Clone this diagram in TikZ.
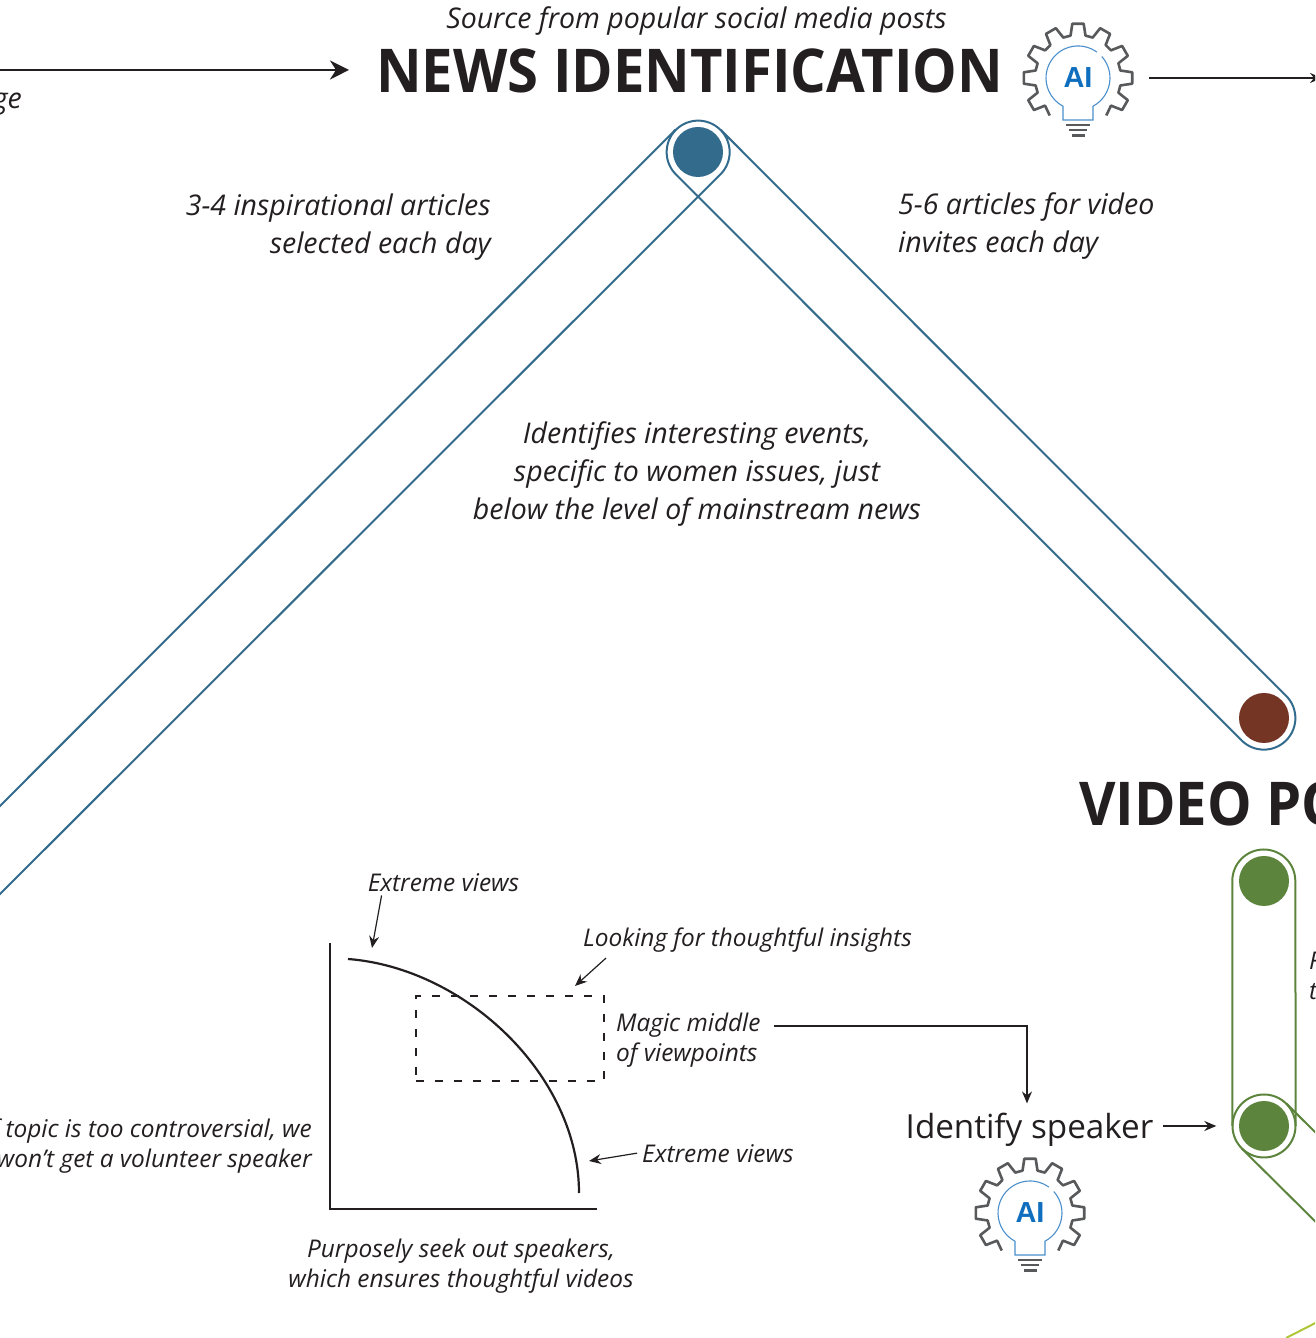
\documentclass[tikz,border=0pt]{standalone}
\usepackage{fontspec}
\setmainfont{Open Sans}
\newfontfamily\headfont{Open Sans}[FakeStretch=0.93]
\newfontfamily\aifont{Liberation Sans}
\usetikzlibrary{arrows.meta}
\usetikzlibrary{positioning}
\definecolor{ink}{HTML}{231F20}
\definecolor{newsblue}{HTML}{336B8C}
\definecolor{docbrown}{HTML}{753525}
\definecolor{videogreen}{HTML}{5C843C}
\definecolor{limeline}{HTML}{AFC63A}
\definecolor{gearblue}{HTML}{0F6EBD}
\definecolor{bulbblue}{HTML}{4A8FCB}
\definecolor{geargray}{HTML}{58595B}
\tikzset{
  lbl/.style={text=ink, inner sep=0pt, font=\fontsize{28.5}{38}\selectfont\itshape},
  sublbl/.style={text=ink, inner sep=0pt, font=\fontsize{24.4}{30}\selectfont\itshape},
  heading/.style={text=ink, inner sep=0pt, font=\headfont\fontsize{60.4}{62}\selectfont\bfseries},
  dot/.style={circle, inner sep=0pt, minimum size=50pt},
  ring/.style={circle, inner sep=0pt, minimum size=63pt},
  capsule/.style={line width=2pt},
  arrow/.style={-{Stealth[length=12pt,width=10pt,inset=4pt]}, ink, line width=1.2pt},
  bigarrow/.style={-{Stealth[length=19pt,width=19pt,inset=6pt]}, ink, line width=2.2pt},
  pics/aibulb/.style={code={
    \draw[geargray, line width=2.6pt, line join=round]
      (-53:47) \foreach \t in {-30,0,...,210} {
        -- ({\t-10}:43) -- ({\t-6}:54.5) -- ({\t+6}:54.5) -- ({\t+10}:43)
      } -- (233:47);
    \draw[bulbblue, line width=1.1pt]
      (54:32) arc[start angle=54, end angle=242, radius=32]
      -- (-15,-42) -- (15,-42) -- (15,-28.2)
      arc[start angle=-62, end angle=42, radius=32];
    \fill[geargray] (-12,-48.4) rectangle (12,-45.6);
    \fill[geargray] (-9,-53.4) rectangle (9,-50.6);
    \fill[geargray] (-6.5,-59.2) rectangle (6.5,-56.2);
    \node[text=gearblue, inner sep=0pt, font=\aifont\fontsize{29}{29}\selectfont\bfseries] (-ai) at (0,0) {AI};
  }}
}
\begin{document}
\begin{tikzpicture}[x=1pt,y=1pt]
\useasboundingbox (0,0) rectangle (1315,1338);
\clip (0,0) rectangle (1315,1338);
% titles
\node[lbl, anchor=base] (source) at (696.5,1309) {Source from popular social media posts};
\node[heading, anchor=base west] (newstitle) at (376,1245) {NEWS IDENTIFICATION};
\node[heading, anchor=base west] (videotitle) at (1079,512) {VIDEO PO};
\node[lbl, anchor=base east] (age) at (22,1229) {ge};
\coordinate (incoming) at (-20,1268);
\coordinate (outgoing) at (1322,1260);
\pic (newsgear) at (1078,1260) {aibulb};
\coordinate (newsout) at (1149,1260);
\coordinate (newsin) at (349,1268);
\draw[bigarrow] (incoming) -- (newsin);
\draw[arrow, line width=1.8pt] (newsout) -- (outgoing);
% capsules
\node[dot, fill=newsblue] (newsdot) at (698,1186) {};
\node[ring] (newsring) at (698,1186) {};
\node[dot, fill=docbrown] (docdot) at (1264,620) {};
\node[ring] (docring) at (1264,620) {};
\coordinate (leftup) at (-40,492);
\coordinate (leftlow) at (-40,404);
\draw[newsblue, capsule] (leftlow) -- (newsring.-45)
  arc[start angle=-45, end angle=225, radius=31.5] -- (docring.225)
  arc[start angle=225, end angle=405, radius=31.5] -- (newsring.45);
\draw[newsblue, capsule] (leftup) -- (newsring.135);
\node[lbl, align=right, anchor=east] (inspire) at (491,1111) {3-4 inspirational articles\\selected each day};
\node[lbl, align=left, anchor=west] (invites) at (898,1111.5) {5-6 articles for video\\invites each day};
\node[lbl, align=center] (identifies) at (697,864) {Identifies interesting events,\\specific to women issues, just\\below the level of mainstream news};
% green capsule
\node[dot, fill=videogreen] (topdot) at (1264,457) {};
\node[ring] (topring) at (1264,457) {};
\node[dot, fill=videogreen] (speakdot) at (1264,212) {};
\node[ring] (speakring) at (1264,212) {};
\draw[videogreen, capsule] (speakring.180) -- (topring.180)
  arc[start angle=180, end angle=0, radius=31.5] -- (speakring.0);
\draw[videogreen, capsule] (speakring) circle[radius=31.5];
\coordinate (greenup) at (1335,186);
\coordinate (greenlow) at (1335,97);
\draw[videogreen, capsule] (speakring.45) -- (greenup);
\draw[videogreen, capsule] (speakring.225) -- (greenlow);
\coordinate (limeleft) at (1286,0);
\coordinate (limeright) at (1335,25);
\draw[limeline, capsule] (limeleft) -- (limeright);
\node[sublbl, anchor=base west, align=left] (cutoff) at (1309,338) {F\\t};
% chart
\coordinate (axistop) at (330,395);
\coordinate (axisorigin) at (330,129);
\coordinate (axisright) at (597,129);
\draw[ink, line width=2.4pt] (axistop) -- (axisorigin) -- (axisright);
\draw[ink, line width=2.2pt] (348,379) .. controls (465,370) and (579,263) .. (579,145);
\node[draw=ink, line width=1.1pt, dash pattern=on 8pt off 11pt, minimum width=188pt, minimum height=85pt, inner sep=0pt] (magicbox) at (510,299.5) {};
\node[sublbl, anchor=base] (extremetop) at (443.5,446) {Extreme views};
\node[sublbl, anchor=base west] (looking) at (583,391) {Looking for thoughtful insights};
\node[sublbl, align=left, anchor=west] (magic) at (616,297.5) {Magic middle\\of viewpoints};
\node[sublbl, anchor=base west] (extremeright) at (642,175) {Extreme views};
\node[sublbl, align=right, anchor=east] (controversial) at (312,192) {f topic is too controversial, we\\won’t get a volunteer speaker};
\node[sublbl, align=center] (purposely) at (461,71.5) {Purposely seek out speakers,\\which ensures thoughtful videos};
\coordinate (toptip) at (372,390);
\coordinate (boxtip) at (575,352);
\coordinate (righttip) at (589,177);
\draw[arrow] (extremetop.south west) ++(14,-3) -- (toptip);
\draw[arrow] (looking.south west) ++(23,-5) -- (boxtip);
\draw[arrow] (extremeright.west) ++(-5,1) -- (righttip);
% speaker
\node[text=ink, inner sep=0pt, font=\fontsize{33.2}{34}\selectfont, anchor=base] (speaker) at (1029.5,199) {Identify speaker};
\pic (speakergear) at (1030,125) {aibulb};
\coordinate (magicout) at (774,312);
\draw[arrow] (magicout) -| ([xshift=-2.5pt,yshift=10pt]speaker.north);
\draw[arrow, line width=1.8pt] ([xshift=10pt]speaker.east |- speakring.west) -- ([xshift=-16pt]speakring.west);
\end{tikzpicture}
\end{document}
